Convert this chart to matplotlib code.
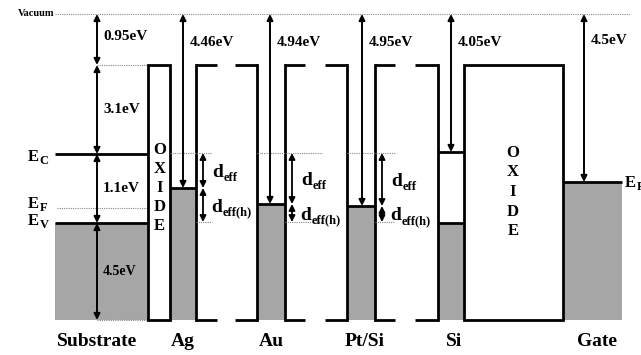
import matplotlib.pyplot as plt
from matplotlib.patches import Rectangle

plt.rcParams['font.family'] = 'Liberation Serif'
plt.rcParams['font.weight'] = 'bold'

# schematic levels (diagram units, top = vacuum)
VAC, OX_TOP, EC, EF, EV, BOTTOM = 14, 65, 154, 208, 223, 320

materials = ['Substrate', 'Ag', 'Au', 'Pt/Si', 'Si', 'Gate']
wf_labels = ['4.46eV', '4.94eV', '4.95eV', '4.05eV', '4.5eV']
wf_levels = [188, 204, 206, 152, 182]          # Ag, Au, Pt/Si, Si(Ec), Gate
sub_labels = ['0.95eV', '3.1eV', '1.1eV', '4.5eV']
sub_levels = [VAC, OX_TOP, EC, EV, BOTTOM]

GRAY = '#a6a6a6'
fig = plt.figure(figsize=(6.41, 3.55), dpi=100)
ax = fig.add_axes([0, 0, 1, 1])
ax.set_xlim(0, 641)
ax.set_ylim(355, 0)
ax.axis('off')


def arrow(x, y1, y2, lw=1.4):
    ax.annotate('', xy=(x, y2), xytext=(x, y1),
                arrowprops=dict(arrowstyle='<|-|>', lw=lw, color='k',
                                mutation_scale=9, shrinkA=0, shrinkB=0))


def hline(y, x1, x2, lw=2.0):
    ax.plot([x1, x2], [y, y], color='k', lw=lw, solid_capstyle='butt')


def vline(x, y1, y2, lw=2.0):
    ax.plot([x, x], [y1, y2], color='k', lw=lw, solid_capstyle='projecting')


def dotted(y, x1, x2):
    ax.plot([x1, x2], [y, y], color='#888888', lw=0.8, ls=(0, (1, 1)))


def gray(x1, x2, ytop):
    ax.add_patch(Rectangle((x1, ytop), x2 - x1, BOTTOM - ytop,
                           facecolor=GRAY, edgecolor='none', zorder=0))


def sublabel(x, y, main, sub, fs, fs_sub, dx=0.5, dy=-1.5):
    t = ax.text(x, y, main, ha='left', va='baseline', fontsize=fs)
    ax.annotate(sub, xy=(1.0, 0.0), xycoords=t, xytext=(dx, dy),
                textcoords='offset points', ha='left', va='bottom',
                fontsize=fs_sub)


# vacuum
dotted(VAC, 55, 630)
ax.text(54, VAC, 'Vacuum', ha='right', va='center', fontsize=7.5)

# substrate
gray(55, 148, EV)
hline(EC, 55, 148)
hline(EV, 55, 148)
dotted(EF, 57, 148)
dotted(OX_TOP, 97, 148)
dotted(BOTTOM, 97, 148)
for (y1, y2), lab in zip(zip(sub_levels[:-1], sub_levels[1:]), sub_labels):
    arrow(97, y1, y2)
    fs = 10 if lab == '4.5eV' else 11
    ax.text(103, (y1 + y2) / 2 + (0 if lab != '0.95eV' else -3), lab,
            ha='left', va='center', fontsize=fs)
sublabel(28, 161, 'E', 'C', 12, 9)
sublabel(28, 208, 'E', 'F', 12, 9)
sublabel(28, 225, 'E', 'V', 12, 9)

# first oxide
ax.add_patch(Rectangle((148, OX_TOP), 22, BOTTOM - OX_TOP, facecolor='white',
                       edgecolor='k', lw=2.0, zorder=2))
for i, ch in enumerate('OXIDE'):
    ax.text(159.5, 150 + i * 19, ch, ha='center', va='center', fontsize=12,
            zorder=3)

# metal columns: (left, right, top level)
columns = [(170, 196, wf_levels[0]), (257, 285, wf_levels[1]),
           (347, 375, wf_levels[2])]
for xl, xr, top in columns:
    gray(xl, xr, top)
    hline(top, xl, xr)
    if xl != 170:
        vline(xl, OX_TOP, BOTTOM)
    vline(xr, OX_TOP, BOTTOM)

# broken thin oxide barriers
barriers = [(196, 217, 235, 257), (285, 305, 325, 347), (375, 395, 415, 438)]
for a, b, c, d in barriers:
    for y in (OX_TOP, BOTTOM):
        hline(y, a, b)
        hline(y, c, d)

# Si column
gray(438, 464, EV)
vline(438, OX_TOP, BOTTOM)
hline(wf_levels[3], 438, 464)
hline(EV, 438, 464)

# second oxide
ax.add_patch(Rectangle((464, OX_TOP), 99, BOTTOM - OX_TOP, facecolor='white',
                       edgecolor='k', lw=2.0, zorder=2))
for i, ch in enumerate('OXIDE'):
    ax.text(513, 153 + i * 19.5, ch, ha='center', va='center', fontsize=12,
            zorder=3)

# gate
gray(563, 622, wf_levels[4])
hline(wf_levels[4], 563, 622)
sublabel(625, wf_levels[4] + 5, 'E', 'F', 12, 9)

# work function arrows
wf_x = [183, 270, 362, 451, 584]
for x, lev, lab in zip(wf_x, wf_levels, wf_labels):
    arrow(x, VAC, lev)
    ax.text(x + 7, 42 if lab != '4.5eV' else 40, lab, ha='left', va='center',
            fontsize=11)

# d_eff markers
dotted(EC - 1, 170, 212)
dotted(EV - 1, 196, 212)
dotted(EC - 1, 257, 322)
dotted(EV - 1, 285, 322)
dotted(EC - 1, 347, 395)
dotted(EV - 1, 375, 395)
deff_x = [203, 292, 382]
for x, lev in zip(deff_x, wf_levels[:3]):
    arrow(x, EC - 1, lev, lw=1.3)
    arrow(x, lev, EV - 1, lw=1.3)
    sublabel(x + 9, (EC + lev) / 2 + 6, 'd', 'eff', 14, 9, dy=-2)
    sublabel(x + 8, (lev + EV) / 2 + 6, 'd', 'eff(h)', 14, 9, dy=-2)

# material labels
mat_x = [97, 183, 271, 365, 454, 597]
for x, name in zip(mat_x, materials):
    ax.text(x, 341, name, ha='center', va='center', fontsize=14)

fig.savefig('out.png', dpi=100)
